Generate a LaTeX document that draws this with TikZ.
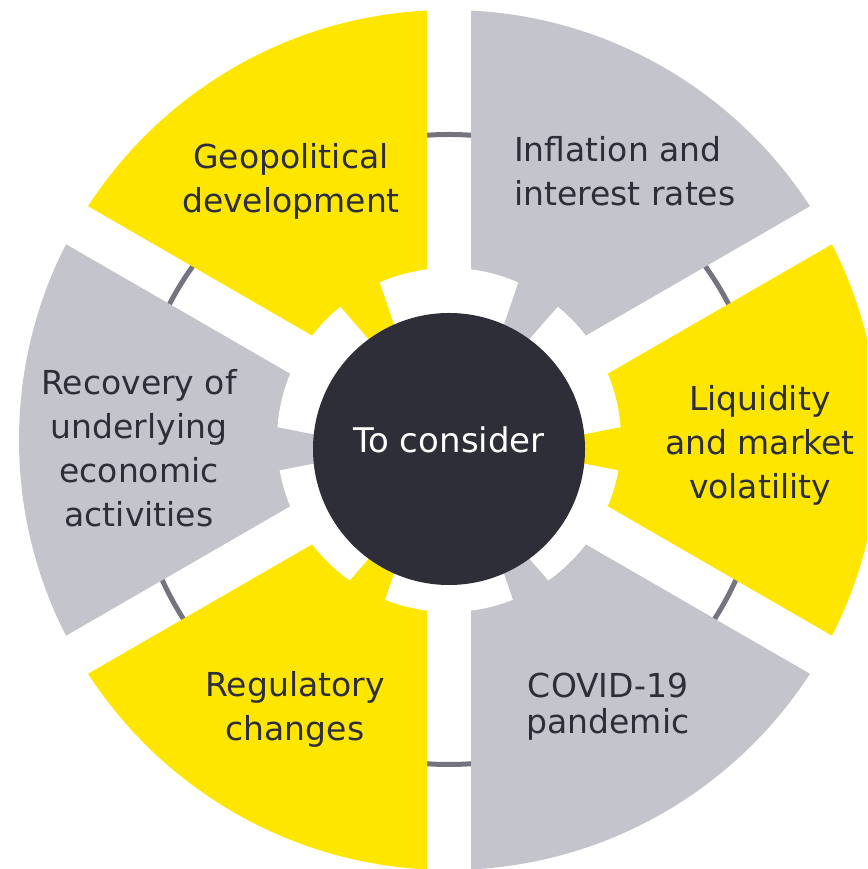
\documentclass[tikz,border=0pt]{standalone}
\usepackage{fontspec}
\setmainfont{DejaVu Sans}
\usetikzlibrary{calc}
\definecolor{eyyellow}{HTML}{FFE600}
\definecolor{eygray}{HTML}{C4C4CD}
\definecolor{eyring}{HTML}{747480}
\definecolor{eydark}{HTML}{2E2E38}
\tikzset{
  lbl/.style={font=\fontsize{33}{44}\selectfont, text=eydark, align=center, inner sep=0pt, anchor=north},
  ringline/.style={draw=eyring, line width=5pt},
}
\begin{document}
\begin{tikzpicture}[x=1pt,y=1pt]
\useasboundingbox (0,0) rectangle (867,869);
\clip (0,0) rectangle (867,869);
\coordinate (O) at (449,429);
\coordinate (C) at (449,420);
\coordinate (RC) at (449,419.5);
% thin ring behind the sectors
\draw[ringline] (RC) circle (315);
% sectors with constant-width gaps
\foreach \c/\col in {120/eyyellow, 60/eygray, 0/eyyellow, -60/eygray, -120/eyyellow, 180/eygray}{
  \begin{scope}
    \clip[shift={(O)}] (\c:44) -- ++(\c+30:700) -- ++(\c-90:700) -- cycle;
    \fill[\col] (O) circle (430);
  \end{scope}
}
% white gear ring
\fill[white] (O) circle (172);
\foreach \c/\col in {120/eyyellow, 60/eygray, 0/eyyellow, -60/eygray, -120/eyyellow, 180/eygray}{
  \fill[\col, shift={(C)}] (\c-7.5:186) -- (\c-5.5:120) -- (\c+5.5:120) -- (\c+7.5:186) -- cycle;
}
% centre
\node[circle, fill=eydark, minimum size=272pt, inner sep=0pt] (hub) at (C) {};
\node[font=\fontsize{34}{44}\selectfont, text=white, inner sep=0pt, anchor=base] (hubtext) at (449,416) {To consider};
% labels
\node[lbl] (geo) at (291,726) {Geopolitical\\development};
\node[lbl, align=left, anchor=north west] (infl) at (514,733) {Inflation and\\interest rates};
\node[lbl] (liq) at (760,484) {Liquidity\\and market\\volatility};
\node[lbl, font=\fontsize{33}{36}\selectfont] (covid) at (608,196) {COVID-19\\pandemic};
\node[lbl] (reg) at (295,198) {Regulatory\\changes};
\node[lbl] (rec) at (139,500) {Recovery of\\underlying\\economic\\activities};
\end{tikzpicture}
\end{document}
